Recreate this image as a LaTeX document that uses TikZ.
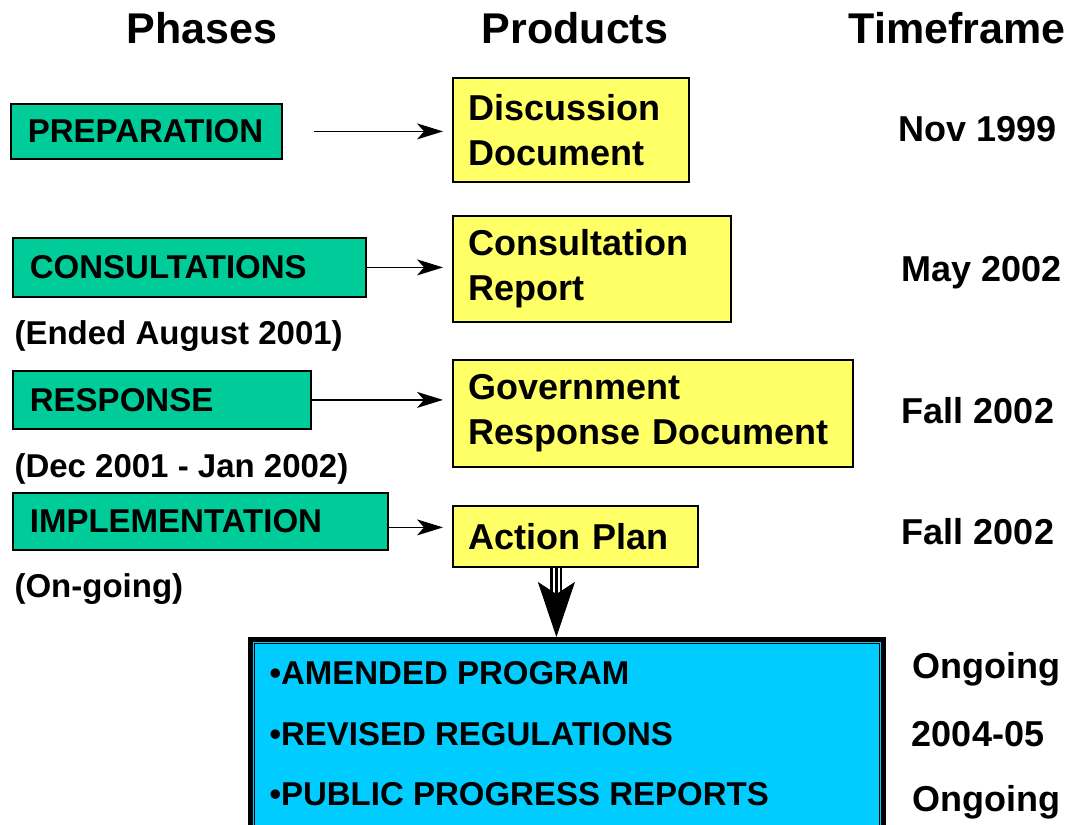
\documentclass[tikz,border=0pt]{standalone}
\usepackage{fontspec}
\setmainfont{Liberation Sans}
\usetikzlibrary{arrows.meta}
\definecolor{phasegreen}{RGB}{0,204,153}
\definecolor{prodyellow}{RGB}{255,255,102}
\definecolor{outcyan}{RGB}{0,204,255}
\newcommand{\hdfont}{\fontsize{43}{50}\selectfont\bfseries}
\newcommand{\prfont}{\fontsize{36}{45}\selectfont\bfseries}
\newcommand{\phfont}{\fontsize{33}{38}\selectfont\bfseries}
\newcommand{\itfont}{\fontsize{33}{40}\selectfont\bfseries}
\begin{document}
\begin{tikzpicture}[x=1pt,y=-1pt,
	phase/.style={draw,line width=1.8pt,fill=phasegreen,anchor=north west,inner xsep=17pt,inner ysep=0pt,align=left,font=\phfont},
	product/.style={draw,line width=1.8pt,fill=prodyellow,anchor=north west,inner xsep=16pt,inner ysep=0pt,align=left,font=\prfont},
	flow/.style={line width=1.5pt,-{Stealth[length=26pt,width=16pt,inset=7pt]},shorten >=9pt},
	triple/.style={line width=12pt,postaction={draw,white,line width=7.5pt},postaction={draw,black,line width=3pt}},
	bigtip/.style={line width=1pt,-{Stealth[length=55pt,width=37pt,inset=12pt]}},
	note/.style={anchor=base west,font=\itfont},
	when/.style={anchor=base,font=\prfont}]
		\clip (0,0) rectangle (1070,824);
		% column heads
		\node[anchor=base,font=\hdfont] (hphase) at (202,44) {Phases};
		\node[anchor=base,font=\hdfont] (hprod) at (575,44) {Products};
		\node[anchor=base,font=\hdfont] (htime) at (957,44) {Timeframe};
		% phases
		\node[phase,text width=237pt,minimum height=55pt] (prep) at (10,103) {PREPARATION};
		\node[phase,text width=319pt,minimum height=59pt] (cons) at (12,237) {CONSULTATIONS};
		\node[phase,text width=264pt,minimum height=58pt] (resp) at (12,370) {RESPONSE};
		\node[phase,text width=341pt,minimum height=57pt] (impl) at (12,492) {IMPLEMENTATION};
		\node[note] (consnote) at (11,344) {(Ended August 2001)};
		\node[note] (respnote) at (11,477) {(Dec 2001 - Jan 2002)};
		\node[note] (implnote) at (11,597) {(On-going)};
		% products
		\node[product,text width=204pt,minimum height=104pt] (disc) at (452,77) {Discussion\\Document};
		\node[product,text width=246pt,minimum height=106pt] (crep) at (452,215) {Consultation\\Report};
		\node[product,text width=368pt,minimum height=107pt] (gov) at (452,359) {Government\\\mbox{Response Document}};
		\node[product,text width=213pt,minimum height=61pt] (act) at (452,505) {\mbox{Action Plan}};
		% timeframe
		\node[when] (tdisc) at (978,141) {Nov 1999};
		\node[when] (tcrep) at (982,281) {May 2002};
		\node[when] (tgov) at (978,423) {Fall 2002};
		\node[when] (tact) at (978,544) {Fall 2002};
		\node[when] (tprog) at (986,678) {Ongoing};
		\node[when] (treg) at (978,746) {2004-05};
		\node[when] (trep) at (986,811) {Ongoing};
		% outcomes
		\node[draw,line width=5pt,fill=outcyan,anchor=north west,minimum width=633pt,minimum height=200pt] (out) at (248,637) {};
		\draw[line width=1.2pt] ([shift={(6.5pt,-6.5pt)}]out.north west) rectangle ([shift={(-6.5pt,6.5pt)}]out.south east);
		\node[note] (prog) at (266,684) {•AMENDED PROGRAM};
		\node[note] (reg) at (266,745) {•REVISED REGULATIONS};
		\node[note] (rep) at (266,805) {•PUBLIC PROGRESS REPORTS};
		% connectors
		\draw[flow,shorten <=31pt] (prep.east) -- (prep.east -| disc.west);
		\draw[flow] (cons.east) -- (cons.east -| crep.west);
		\draw[flow] (resp.east) -- (resp.east -| gov.west);
		\draw[flow] ([yshift=-6pt]impl.east) -- ([yshift=-6pt]impl.east -| act.west);
		\draw[triple,shorten >=40pt] ([xshift=-19pt]act.south) -- ([xshift=-19pt]act.south |- out.north);
		\draw[bigtip] ([xshift=-19pt]act.south) -- ([xshift=-19pt]act.south |- out.north);
\end{tikzpicture}
\end{document}
